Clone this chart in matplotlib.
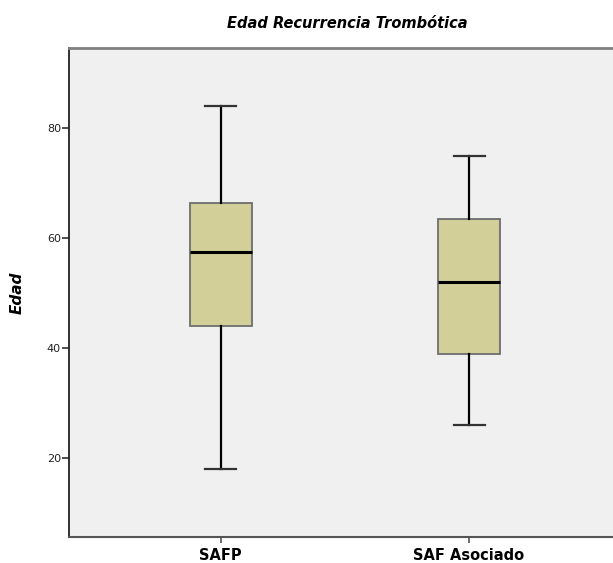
import matplotlib.pyplot as plt

# Resumen de cada grupo: mínimo, Q1, mediana, Q3, máximo
grupos = ['SAFP', 'SAF Asociado']
minimos = [18, 26]
q1 = [44, 39]
medianas = [57.5, 52]
q3 = [66.5, 63.5]
maximos = [84, 75]

stats = []
for g, lo, a, m, b, hi in zip(grupos, minimos, q1, medianas, q3, maximos):
    stats.append({'label': g, 'whislo': lo, 'q1': a, 'med': m, 'q3': b,
                  'whishi': hi, 'fliers': []})

fig = plt.figure(figsize=(6.13, 5.63), dpi=100)
ax = fig.add_axes([69.3 / 613, 26 / 563, (620.5 - 69.3) / 613, (537 - 48.3) / 563])
ax.set_facecolor('#f0f0f0')

ax.bxp(stats, positions=[1, 2], widths=0.25, patch_artist=True,
       boxprops=dict(facecolor='#d3cf98', edgecolor='#6e6e6e', linewidth=1.3),
       medianprops=dict(color='black', linewidth=2.2),
       whiskerprops=dict(color='black', linewidth=1.6),
       capprops=dict(color='#333333', linewidth=1.6),
       capwidths=0.125)

ax.set_xlim(0.39, 2.61)
ax.set_ylim(5.7, 94.55)
ax.set_yticks([20, 40, 60, 80])
ax.tick_params(axis='y', labelsize=8, labelcolor='#222222', length=5, width=1.2,
               color='#333333', pad=1)
ax.tick_params(axis='x', labelsize=10.5, length=4, width=1.2, color='#555555', pad=4)
for lbl in ax.get_xticklabels():
    lbl.set_fontweight('bold')

for s in ['top', 'right']:
    ax.spines[s].set_color('#808080')
    ax.spines[s].set_linewidth(2)
ax.spines['left'].set_color('#222222')
ax.spines['left'].set_linewidth(1.3)
ax.spines['bottom'].set_color('#555555')
ax.spines['bottom'].set_linewidth(1.5)

ax.set_ylabel('Edad', fontsize=11, fontweight='bold', fontstyle='italic', labelpad=16)
fig.text(347 / 613, 1 - 24 / 563, 'Edad Recurrencia Trombótica', ha='center', va='center',
         fontsize=10.5, fontweight='bold', fontstyle='italic')

plt.savefig('out.png', dpi=100)
plt.close()
